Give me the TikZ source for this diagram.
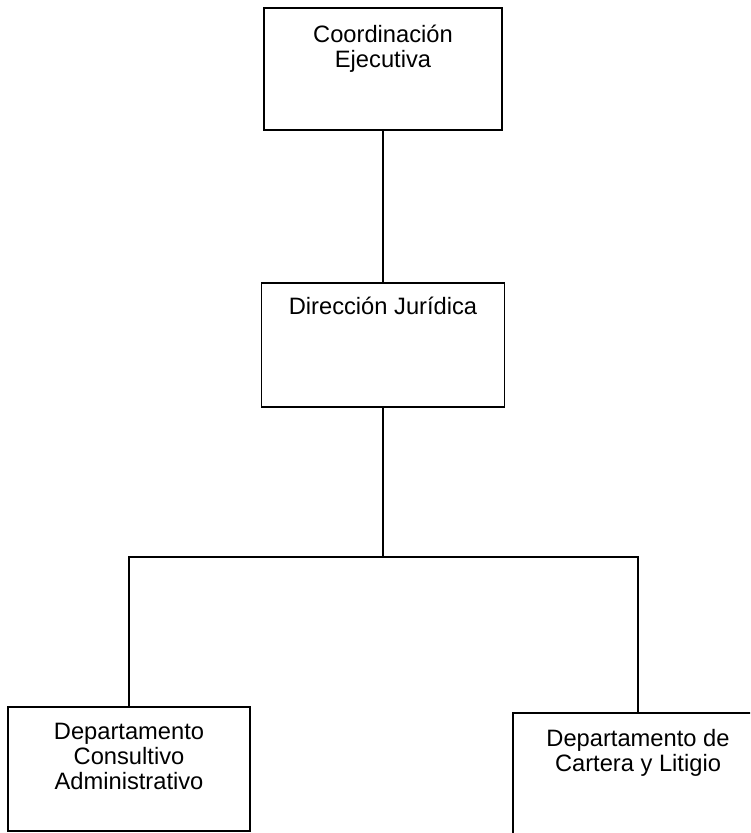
\documentclass[tikz,border=0pt]{standalone}
\usepackage{fontspec}
\setmainfont{Liberation Sans}
\usetikzlibrary{positioning}

\begin{document}
\begin{tikzpicture}[x=1pt,y=-1pt]
		\begin{scope}
		
		\tikzstyle{mybox}=[rectangle,
		draw=black,
		line width=1.6pt,
		inner sep=0pt
		]
		\tikzstyle{mytext}=[align=center,
		inner sep=0pt,
		font=\fontsize{23.7}{25}\selectfont
		]
		\tikzstyle{myline}=[line width=1.6pt]
		
		\useasboundingbox (0,0) rectangle (750,833);
		\clip (0,0) rectangle (750,833);
		
		\coordinate (pcej) at (383, 69);
		\coordinate (pdju) at (383, 345);
		\coordinate (pdca) at (129, 769);
		\coordinate (pdcl) at (638, 775);
		\coordinate (bus) at (383, 557);
		
		\node[mybox, minimum width=238pt, minimum height=122pt] (cej) at (pcej) {};
		\node[mybox, minimum width=243pt, minimum height=124pt] (dju) at (pdju) {};
		\node[mybox, minimum width=242pt, minimum height=124pt] (dca) at (pdca) {};
		\node[mybox, minimum width=250pt, minimum height=124pt] (dcl) at (pdcl) {};
		
		% base anchor sits on the last line
		\node[mytext, below=60pt of cej.north, anchor=base] (cejtext) {Coordinación\\Ejecutiva};
		\node[mytext, below=32pt of dju.north, anchor=base] (djutext) {Dirección Jurídica};
		\node[mytext, below=83pt of dca.north, anchor=base] (dcatext) {Departamento\\Consultivo\\Administrativo};
		\node[mytext, below=59pt of dcl.north, anchor=base] (dcltext) {Departamento de\\Cartera y Litigio};
		
		\draw[myline] (cej.south) -- (dju.north);
		\draw[myline] (dju.south) -- (bus);
		\draw[myline] (dca.north) |- (bus) -| (dcl.north);
		
		\end{scope}
\end{tikzpicture}
\end{document}
